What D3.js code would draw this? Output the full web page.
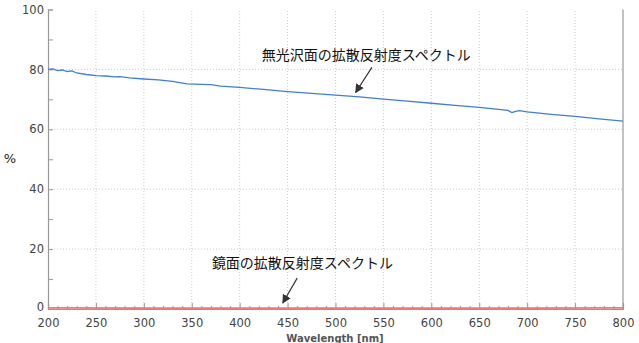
<!DOCTYPE html>
<html>
<head>
    <meta charset="utf-8">
    <script src="https://d3js.org/d3.v7.min.js"></script>
    <style>
        body { margin: 0; background: #fff; }
        svg { display: block; }
        .tick text { font-family: "DejaVu Sans", sans-serif; font-size: 11.5px; fill: #444; }
        .jp { font-family: "Noto Sans CJK JP", sans-serif; font-size: 14px; fill: #111; }
    </style>
</head>
<body>
    <svg id="chart" width="639" height="343"></svg>

    <script>
        // matte surface diffuse reflectance (blue)
        var matteWl  = [200, 205, 210, 215, 220, 225, 230, 240, 250, 260, 270, 275, 285, 300, 315, 330, 345, 360, 370, 380, 400, 425, 450, 475, 500, 525, 550, 575, 600, 625, 650, 675, 680, 684, 688, 692, 700, 725, 750, 775, 800];
        var matteVal = [80.0, 80.2, 79.6, 79.8, 79.3, 79.5, 78.8, 78.3, 77.9, 77.8, 77.5, 77.6, 77.2, 76.8, 76.5, 76.0, 75.2, 75.0, 74.9, 74.4, 74.0, 73.3, 72.6, 72.0, 71.4, 70.8, 70.1, 69.4, 68.7, 68.0, 67.3, 66.5, 66.3, 65.6, 66.0, 66.2, 65.8, 65.0, 64.3, 63.5, 62.7];
        // mirror surface diffuse reflectance (red)
        var mirrorWl  = [200, 300, 400, 500, 600, 700, 800];
        var mirrorVal = [0.35, 0.3, 0.3, 0.3, 0.3, 0.3, 0.35];

        var xMajor = [200, 250, 300, 350, 400, 450, 500, 550, 600, 650, 700, 750, 800];
        var yMajor = [0, 20, 40, 60, 80, 100];

        // annotations: [text x, text y, arrow from x, from y, arrow to x, to y] in data units
        var labels = ["無光沢面の拡散反射度スペクトル", "鏡面の拡散反射度スペクトル"];
        var labelPos = [[423, 83.3, 538, 80.7, 521, 72.3], [371, 13.7, 460, 10.3, 445, 2.0]];

        var svg = d3.select("#chart");
        var margin = {left: 48, right: 16, top: 9.5, bottom: 34};
        var W = 639, H = 343;

        var x = d3.scaleLinear().domain([200, 800]).range([margin.left, W - margin.right]);
        var y = d3.scaleLinear().domain([0, 100]).range([H - margin.bottom, margin.top]);

        // grid
        svg.append("g").selectAll("line").data(xMajor.slice(1, -1)).enter().append("line")
            .attr("x1", d => x(d)).attr("x2", d => x(d)).attr("y1", y(0)).attr("y2", y(100))
            .attr("stroke", "#ccc").attr("stroke-dasharray", "1,2");
        svg.append("g").selectAll("line").data(yMajor.slice(1, -1)).enter().append("line")
            .attr("x1", x(200)).attr("x2", x(800)).attr("y1", d => y(d)).attr("y2", d => y(d))
            .attr("stroke", "#ccc").attr("stroke-dasharray", "1,2");

        // right border
        svg.append("line").attr("x1", x(800)).attr("x2", x(800)).attr("y1", y(0)).attr("y2", y(100))
            .attr("stroke", "#999").attr("stroke-width", 1.2);

        // axes
        var xAxis = svg.append("g").attr("transform", `translate(0,${y(0)})`)
            .call(d3.axisBottom(x).tickValues(xMajor).tickSize(-6).tickPadding(10));
        svg.append("g").attr("transform", `translate(0,${y(0)})`)
            .call(d3.axisBottom(x).tickValues(d3.range(210, 800, 10).filter(d => d % 50)).tickSize(-3).tickFormat(""))
            .call(g => g.select(".domain").remove());
        var yAxis = svg.append("g").attr("transform", `translate(${x(200)},0)`)
            .call(d3.axisLeft(y).tickValues(yMajor).tickSize(-5).tickPadding(4));
        svg.append("g").attr("transform", `translate(${x(200)},0)`)
            .call(d3.axisLeft(y).tickValues([10, 30, 50, 70, 90]).tickSize(-5).tickFormat(""))
            .call(g => g.select(".domain").remove());

        svg.selectAll(".domain").attr("stroke", "#999").attr("stroke-width", 1.2);
        svg.selectAll(".tick line").attr("stroke", "#999");
        yAxis.select(".tick:first-of-type text").attr("dy", "0.1em");

        svg.append("text").attr("x", 335).attr("y", 341.5)
            .attr("text-anchor", "middle")
            .style("font-family", "DejaVu Sans, sans-serif").style("font-size", "10px")
            .style("font-weight", "bold").style("fill", "#555")
            .text("Wavelength [nm]");
        svg.append("text").attr("x", 10).attr("y", 163)
            .attr("text-anchor", "middle")
            .style("font-family", "DejaVu Sans, sans-serif").style("font-size", "13px").style("fill", "#222")
            .text("%");

        // lines
        var line = d3.line().x(d => x(d[0])).y(d => y(d[1]));
        svg.append("path").datum(mirrorWl.map((w, i) => [w, mirrorVal[i]]))
            .attr("d", line).attr("fill", "none").attr("stroke", "#ee7777").attr("stroke-width", 1.8);
        svg.append("path").datum(matteWl.map((w, i) => [w, matteVal[i]]))
            .attr("d", line).attr("fill", "none").attr("stroke", "#3f7fd6").attr("stroke-width", 1.3);

        // annotations
        svg.append("defs").append("marker").attr("id", "arrow")
            .attr("viewBox", "0 0 10 10").attr("refX", 9).attr("refY", 5)
            .attr("markerWidth", 9).attr("markerHeight", 9).attr("markerUnits", "userSpaceOnUse")
            .attr("orient", "auto")
            .append("path").attr("d", "M0,0L10,5L0,10Z").attr("fill", "#333");

        labels.forEach(function(t, i) {
            var p = labelPos[i];
            svg.append("text").attr("class", "jp").attr("x", x(p[0])).attr("y", y(p[1])).text(t);
            svg.append("line").attr("x1", x(p[2])).attr("y1", y(p[3])).attr("x2", x(p[4])).attr("y2", y(p[5]))
                .attr("stroke", "#333").attr("stroke-width", 1.2).attr("marker-end", "url(#arrow)");
        });
    </script>
</body>
</html>
